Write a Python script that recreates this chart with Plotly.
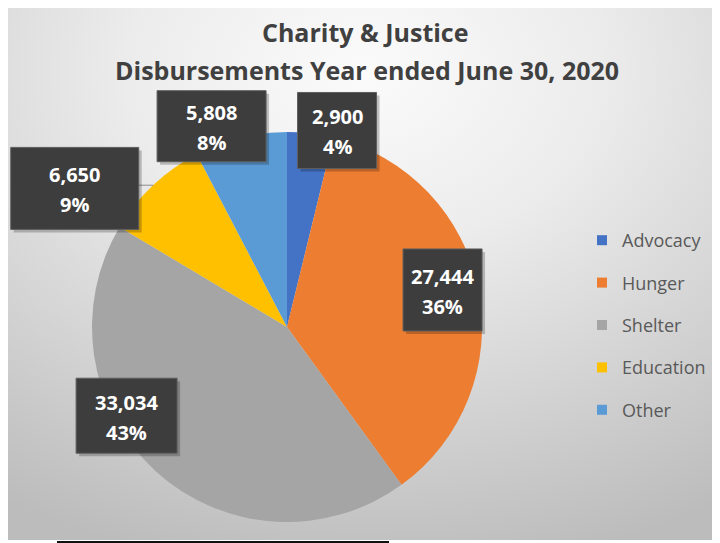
import math
import base64
import plotly.graph_objects as go

# ---------------- data ----------------
categories = ["Advocacy", "Hunger", "Shelter", "Education", "Other"]
values = [2900, 27444, 33034, 6650, 5808]
value_labels = ["2,900", "27,444", "33,034", "6,650", "5,808"]
percent_labels = ["4%", "36%", "43%", "9%", "8%"]
title_lines = ["Charity & Justice", "Disbursements Year ended June 30, 2020"]

# ---------------- styles ----------------
colors = ["#4472C4", "#ED7D31", "#A5A5A5", "#FFC000", "#5B9BD5"]
OFF = 8                     # page body margin
W, H = 712, 535             # figure size
PIE_CX, PIE_CY, PIE_R = 287, 327, 195          # page-pixel geometry of the pie
label_angle_shift = [7.4, -2.3, 18.6, -13.5, -6.8]   # degrees, label nudge
label_radius = [1.04, 0.82, 0.94, 1.30, 1.10]        # fraction of radius
box_w = [79, 79, 101, 128, 109]
box_h = [76, 82, 75, 82, 71]
leader = [False, False, False, True, False]
FONT = "Open Sans"


def px_x(x):
    return (x - OFF) / W


def px_y(y):
    return 1 - (y - OFF) / H


fig = go.Figure()

# background gradient (svg image)
svg = (
    '<svg xmlns="http://www.w3.org/2000/svg" width="715" height="532" preserveAspectRatio="none">'
    '<defs><radialGradient id="g" cx="50%" cy="12%" r="95%">'
    '<stop offset="0" stop-color="#fbfbfb"/><stop offset="0.35" stop-color="#ececec"/>'
    '<stop offset="1" stop-color="#bcbcbc"/></radialGradient></defs>'
    '<rect width="715" height="532" fill="url(#g)"/></svg>'
)
src = "data:image/svg+xml;base64," + base64.b64encode(svg.encode()).decode()

fig.add_trace(go.Pie(
    labels=categories,
    values=values,
    sort=False,
    direction="clockwise",
    rotation=0,
    marker=dict(colors=colors, line=dict(width=0)),
    textinfo="none",
    hoverinfo="label+value+percent",
    showlegend=False,
    domain=dict(
        x=[px_x(PIE_CX - PIE_R), px_x(PIE_CX + PIE_R)],
        y=[px_y(PIE_CY + PIE_R), px_y(PIE_CY - PIE_R)],
    ),
))

# legend entries
for i, (c, col) in enumerate(zip(categories, colors)):
    fig.add_trace(go.Scatter(
        x=[None], y=[None], mode="markers", name=c, legendgroup=c,
        marker=dict(symbol="square", size=10, color=col),
        hoverinfo="skip",
    ))

# data labels, computed from slice angles
total = sum(values)
shapes = []
annotations = []
cum = 0
for i, v in enumerate(values):
    mid = (cum + v / 2) / total * 360
    cum += v
    a = math.radians(mid + label_angle_shift[i])
    lx = PIE_CX + label_radius[i] * PIE_R * math.sin(a)
    ly = PIE_CY - label_radius[i] * PIE_R * math.cos(a)
    x0, x1 = lx - box_w[i] / 2, lx + box_w[i] / 2
    y0, y1 = ly - box_h[i] / 2, ly + box_h[i] / 2
    if leader[i]:
        am = math.radians(mid)
        ex = PIE_CX + PIE_R * math.sin(am)
        ey = PIE_CY - PIE_R * math.cos(am)
        shapes.append(dict(type="line", xref="paper", yref="paper",
                           x0=px_x(x1), y0=px_y(ey), x1=px_x(ex), y1=px_y(ey),
                           line=dict(color="#8c8c8c", width=1), layer="above"))
    # shadow
    shapes.append(dict(type="rect", xref="paper", yref="paper",
                       x0=px_x(x0 + 3), x1=px_x(x1 + 3), y0=px_y(y0 + 3), y1=px_y(y1 + 3),
                       fillcolor="rgba(0,0,0,0.22)", line=dict(width=0), layer="above"))
    shapes.append(dict(type="rect", xref="paper", yref="paper",
                       x0=px_x(x0), x1=px_x(x1), y0=px_y(y0), y1=px_y(y1),
                       fillcolor="#3d3d3d", line=dict(color="#5e5e5e", width=1), layer="above"))
    annotations.append(dict(text="<b>%s</b>" % value_labels[i], xref="paper", yref="paper",
                            x=px_x(lx), y=px_y(ly - 13.5), showarrow=False,
                            xanchor="center", yanchor="middle",
                            font=dict(family=FONT, size=20, color="white")))
    annotations.append(dict(text="<b>%s</b>" % percent_labels[i], xref="paper", yref="paper",
                            x=px_x(lx), y=px_y(ly + 16.5), showarrow=False,
                            xanchor="center", yanchor="middle",
                            font=dict(family=FONT, size=20, color="white")))

# title lines
annotations.append(dict(text="<b>%s</b>" % title_lines[0], xref="paper", yref="paper",
                        x=px_x(366), y=px_y(32), showarrow=False, xanchor="center",
                        yanchor="middle", font=dict(family=FONT, size=25, color="#404040")))
annotations.append(dict(text="<b>%s</b>" % title_lines[1], xref="paper", yref="paper",
                        x=px_x(367), y=px_y(70), showarrow=False, xanchor="center",
                        yanchor="middle", font=dict(family=FONT, size=25, color="#404040")))

# frame details
shapes.append(dict(type="rect", xref="paper", yref="paper", x0=px_x(57), x1=px_x(389),
                   y0=px_y(543), y1=px_y(541), fillcolor="#111111", line=dict(width=0),
                   layer="above"))

fig.update_layout(
    width=W, height=H,
    margin=dict(l=0, r=0, t=0, b=0),
    paper_bgcolor="white",
    plot_bgcolor="rgba(0,0,0,0)",
    xaxis=dict(visible=False),
    yaxis=dict(visible=False),
    images=[dict(source=src, xref="paper", yref="paper", x=0, y=1,
                 sizex=1, sizey=(540 - OFF) / H, xanchor="left", yanchor="top",
                 sizing="stretch", layer="below")],
    shapes=shapes,
    annotations=annotations,
    showlegend=True,
    legend=dict(x=px_x(582), y=px_y(222), xanchor="left", yanchor="top",
                font=dict(family=FONT, size=18, color="#595959"),
                bgcolor="rgba(0,0,0,0)", tracegroupgap=16,
                itemclick=False, itemdoubleclick=False),
)

fig.write_html("out.html")
